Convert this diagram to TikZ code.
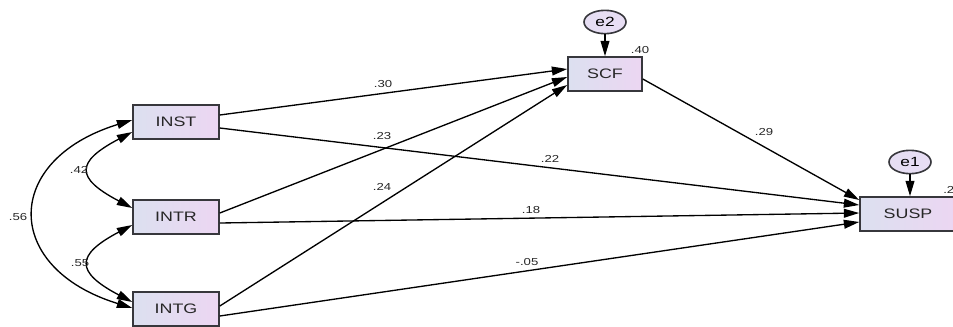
\documentclass[tikz,border=0pt]{standalone}
\usepackage{fontspec}
\usepackage{graphicx}
\setmainfont{Liberation Sans}
\usetikzlibrary{arrows.meta,calc,shapes.geometric}
% wide lettering used throughout the path diagram
\newcommand{\widetxt}[1]{\scalebox{1.3}[1]{#1}}
\definecolor{boxleft}{RGB}{220,224,240}
\definecolor{boxright}{RGB}{236,214,242}
\definecolor{errfill}{RGB}{232,222,244}
\definecolor{edgegray}{RGB}{55,55,60}
\tikzset{
  var/.style={rectangle, draw=edgegray, line width=1.2pt, left color=boxleft, right color=boxright,
    minimum height=25.5pt, inner sep=0pt, font=\fontsize{10.3}{12}\selectfont, text=black!85},
  err/.style={ellipse, draw=edgegray, line width=1.2pt, left color=errfill!80!boxleft, right color=errfill,
    minimum width=31.5pt, minimum height=17.5pt, inner sep=0pt, font=\fontsize{10}{12}\selectfont},
  path/.style={line width=1pt, -{Triangle[length=11.5pt,width=6.6pt]}},
  cov/.style={line width=1pt, {Triangle[length=11.5pt,width=6.6pt]}-{Triangle[length=11.5pt,width=6.6pt]}},
  coef/.style={font=\fontsize{7.6}{9}\selectfont, text=black!85, inner sep=0pt}
}
\begin{document}
\begin{tikzpicture}[x=0.75pt,y=-0.75pt]
\useasboundingbox (0,0) rectangle (953,326);

% observed variables
\node[var, minimum width=64.5pt] (INST) at (176,122) {\widetxt{INST}};
\node[var, minimum width=64.5pt] (INTR) at (176,217) {\widetxt{INTR}};
\node[var, minimum width=64.5pt] (INTG) at (176,309) {\widetxt{INTG}};
\node[var, minimum width=55.5pt] (SCF) at (605,74) {\widetxt{SCF}};
\node[var, minimum width=72pt] (SUSP) at (908,214) {\widetxt{SUSP}};

% error terms
\node[err] (e2) at (605,22) {\widetxt{e2}};
\node[err] (e1) at (910,162) {\widetxt{e1}};
\draw[path] (e2) -- (SCF);
\draw[path] (e1) -- (e1 |- SUSP.north);

% direct paths
\draw[path] ($(INST.east)+(0,-7)$) -- ($(SCF.west)+(0,-5)$);
\draw[path] ($(INTR.east)+(0,-4)$) -- ($(SCF.west)+(0,3)$);
\draw[path] ($(INTG.east)+(0,-3)$) -- ($(SCF.west)+(0,11)$);
\draw[path] ($(SCF.east)+(0,5)$) -- ($(SUSP.west)+(0,-14)$);
\draw[path] ($(INST.east)+(0,6)$) -- ($(SUSP.west)+(0,-9)$);
\draw[path] ($(INTR.east)+(0,6)$) -- ($(SUSP.west)+(0,-1)$);
\draw[path] ($(INTG.east)+(0,7)$) -- ($(SUSP.west)+(0,8)$);

% correlations among the predictors
\draw[cov] ($(INST.west)+(0,10)$) .. controls +(-57,30) and +(-57,-30) .. ($(INTR.west)+(0,-9)$);
\draw[cov] ($(INTR.west)+(0,8)$) .. controls +(-57,30) and +(-57,-30) .. ($(INTG.west)+(0,-7)$);
\draw[cov] ($(INST.west)+(0,-2)$) .. controls +(-130,40) and +(-130,-40) .. ($(INTG.west)+(0,-1)$);

% coefficients
\node[coef] (c30) at (383,84) {\widetxt{.30}};
\node[coef] (c23) at (382,136) {\widetxt{.23}};
\node[coef] (c22) at (550,159) {\widetxt{.22}};
\node[coef] (c24) at (382,187) {\widetxt{.24}};
\node[coef] (c18) at (531,210) {\widetxt{.18}};
\node[coef] (c05) at (527,262) {\widetxt{-.05}};
\node[coef] (c29) at (764,132) {\widetxt{.29}};
\node[coef] (c42) at (79,170) {\widetxt{.42}};
\node[coef] (c55) at (80,263) {\widetxt{.55}};
\node[coef] (c56) at (18,217) {\widetxt{.56}};
\node[coef] (r40) at (640,50) {\widetxt{.40}};
\node[coef, anchor=west] (r2) at (943,190) {\widetxt{.2}};
\end{tikzpicture}
\end{document}
